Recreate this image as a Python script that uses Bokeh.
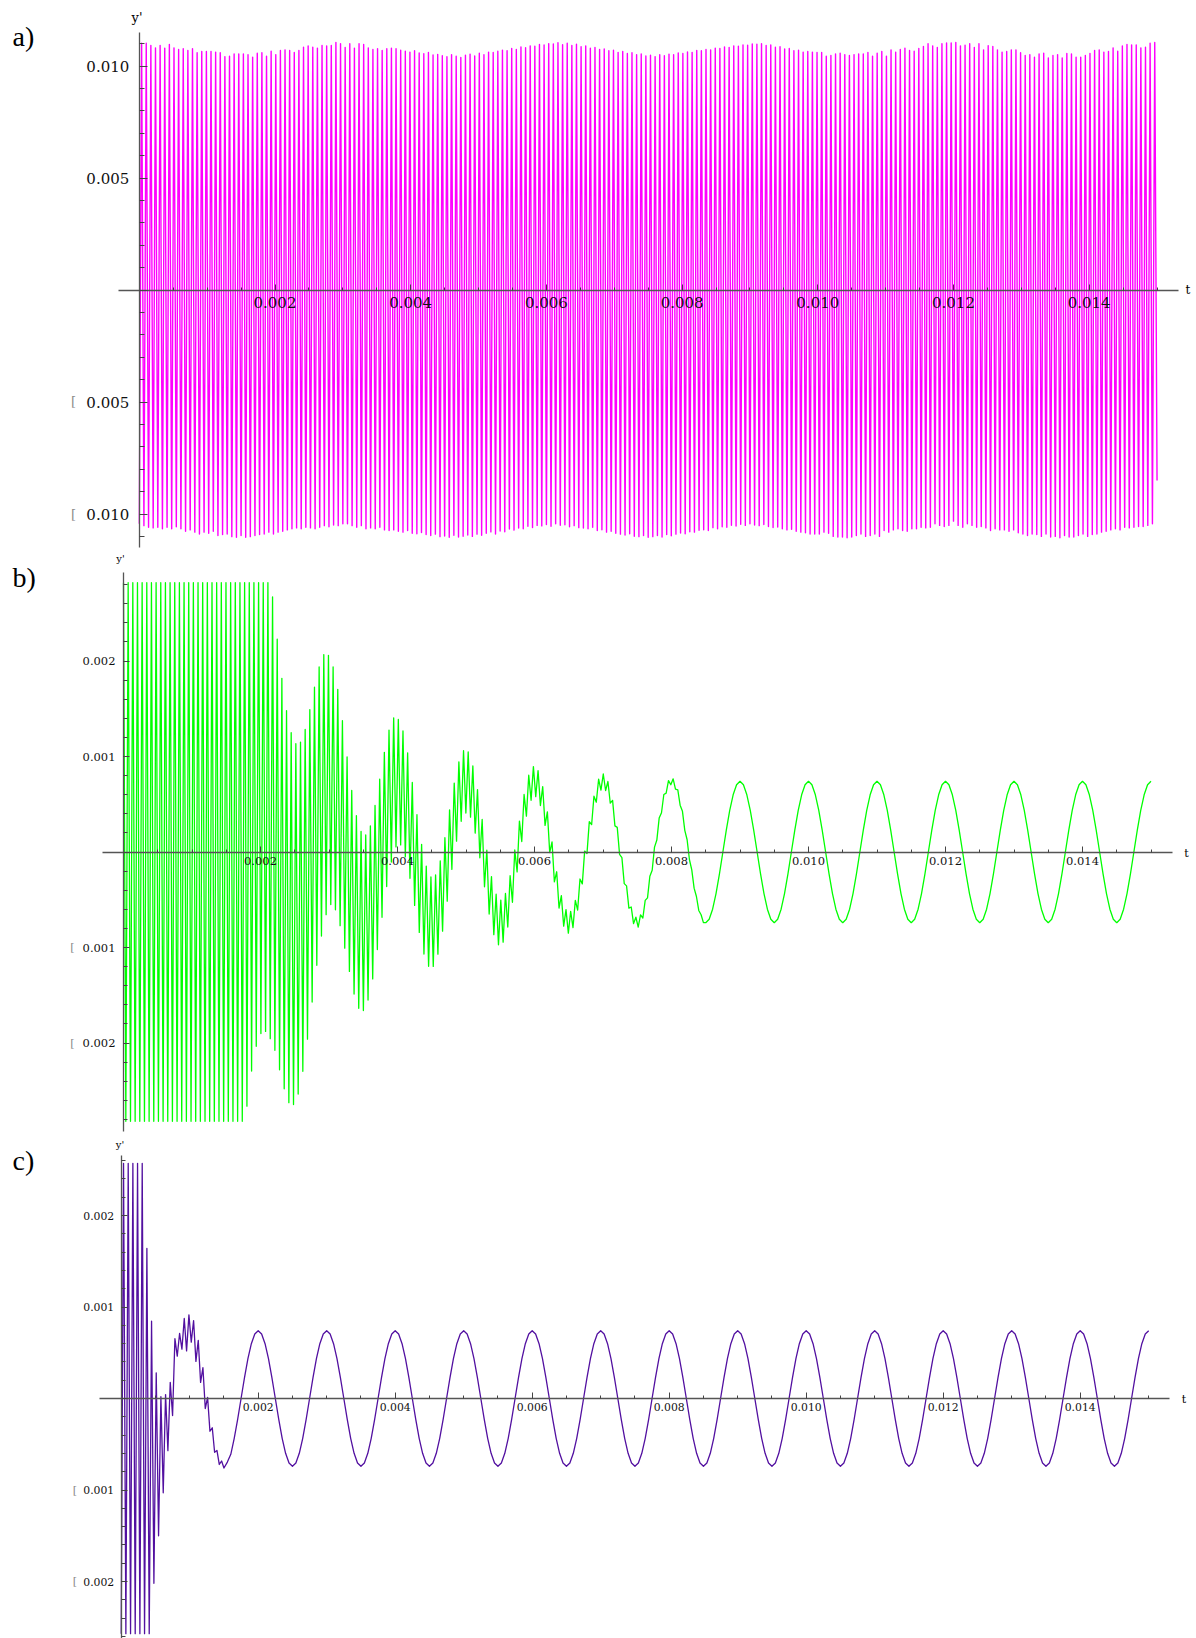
import numpy as np
from bokeh.plotting import figure
from bokeh.models import Range1d, SingleIntervalTicker, CustomJSTickFormatter, Label, LinearAxis
from bokeh.layouts import column
from bokeh.embed import file_html
from bokeh.resources import INLINE

# ---------------- data ----------------
T_END = 0.015

# panel a: successive troughs / peaks of the fast oscillation, units 1e-5
a_troughs = [
    -1044, -1052, -1059, -1062, -1059, -1066, -1059, -1066, -1057, -1066,
    -1077, -1071, -1081, -1089, -1081, -1086, -1077, -1096, -1092, -1089,
    -1101, -1104, -1096, -1104, -1101, -1096, -1092, -1089, -1081, -1089,
    -1081, -1077, -1071, -1066, -1062, -1066, -1059, -1062, -1066, -1059,
    -1052, -1057, -1049, -1052, -1044, -1044, -1052, -1059, -1052, -1066,
    -1062, -1066, -1059, -1071, -1074, -1071, -1077,
    -1081, -1074, -1086, -1088, -1083, -1092, -1096, -1090, -1101, -1098,
    -1104, -1095, -1103, -1099, -1094, -1100, -1090, -1095, -1086, -1080,
    -1089, -1076, -1079, -1067, -1072, -1063, -1066, -1055, -1060, -1051,
    -1053, -1047, -1055, -1044, -1050, -1048, -1057, -1052, -1061, -1063,
    -1066, -1059, -1074, -1070, -1081, -1077, -1086, -1090, -1094, -1088,
    -1099, -1101, -1096, -1104, -1101, -1096, -1103, -1092, -1097, -1090,
    -1085, -1088, -1079, -1081, -1073, -1070, -1074, -1061, -1066, -1057,
    -1059, -1050, -1054, -1046, -1051, -1044, -1049, -1052, -1047, -1056,
    -1060, -1058, -1066, -1071, -1068, -1077,
    -1081, -1084, -1089, -1089, -1089, -1081, -1086, -1100, -1103, -1103,
    -1106, -1103, -1096, -1089, -1100, -1096, -1089, -1100, -1074, -1081,
    -1071, -1066, -1074, -1077, -1066, -1066, -1059, -1062, -1059, -1044,
    -1051, -1056, -1051, -1032, -1051, -1059, -1044, -1051, -1059, -1056,
    -1062, -1074, -1066, -1071, -1071, -1077, -1071, -1084, -1089, -1096,
    -1089, -1092, -1100, -1089, -1103, -1100, -1106, -1096, -1103, -1103,
    -1096, -1089, -1100, -1092, -1089, -1081, -1077, -1071, -1066, -1071,
    -1059, -1062, -1059, -1056, -1056, -1051, -1044,
]
a_peaks = [
    1102, 1102, 1092, 1081, 1092, 1080, 1096, 1081, 1074, 1077, 1069,
    1077, 1059, 1065, 1065, 1065, 1062, 1059, 1042, 1044, 1054, 1054,
    1054, 1050, 1039, 1057, 1059, 1044, 1066, 1051, 1069, 1072, 1069,
    1060, 1069, 1084, 1089, 1084, 1080, 1092, 1089, 1092, 1105, 1099,
    1083, 1099, 1080, 1099, 1096, 1081, 1074, 1077, 1069, 1077, 1080,
    1077, 1070, 1066, 1062, 1068, 1058, 1055, 1060, 1049, 1052, 1046,
    1041, 1050, 1044, 1038, 1048, 1053, 1045, 1057, 1050, 1062, 1060,
    1066, 1071, 1068, 1078, 1074, 1085, 1082, 1090, 1088, 1096, 1094,
    1100, 1098, 1104, 1095, 1102, 1092, 1097, 1086, 1090, 1079, 1083,
    1074, 1076, 1068, 1070, 1061, 1065, 1056, 1059, 1050, 1054, 1045,
    1048, 1042, 1050, 1046, 1053, 1050, 1058, 1056, 1063, 1061, 1069,
    1068, 1074, 1072, 1080, 1078, 1085, 1083, 1090, 1088, 1094, 1093,
    1098, 1097, 1099, 1092, 1094, 1084, 1086, 1076, 1078, 1068, 1070,
    1062, 1065, 1062, 1060, 1060, 1044, 1047, 1054, 1057, 1051,
    1047, 1051, 1054, 1054, 1060, 1044, 1057, 1065, 1044, 1072,
    1062, 1074, 1080, 1069, 1066, 1078, 1087, 1099, 1090, 1083,
    1099, 1103, 1103, 1105, 1090, 1093, 1099, 1083, 1099, 1072,
    1091, 1087, 1072, 1062, 1065, 1072, 1072, 1059, 1047, 1051,
    1039, 1054, 1057, 1036, 1047, 1051, 1036, 1056, 1054, 1039,
    1039, 1047, 1056, 1069, 1072, 1062, 1065, 1081, 1066, 1089,
    1096, 1094, 1094, 1081, 1084, 1102, 1105,
]
a_last = -850

# panel b: fast part 0 .. 0.0085 (alternate upper / lower tips), units 1e-6
b_fast = [
    2820, -2820, 2820, -2820, 2820, -2820, 2820, -2820, 2820, -2820,
    2820, -2820, 2820, -2820, 2820, -2820, 2820, -2820, 2820, -2820,
    2820, -2820, 2820, -2820, 2820, -2820, 2820, -2820, 2820, -2820,
    2820, -2820, 2820, -2820, 2820, -2820, 2820, -2820, 2820, -2820,
    2820, -2820, 2820, -2820, 2820, -2820, 2820, -2820, 2820, -2820,
    2820, -2820,
    2820, -2662, 2820, -2293, 2820, -2035, 2820, -1901, 2820, -1879,
    2820, -1955, 2672, -2076, 2228, -2280, 1819, -2480, 1481, -2625,
    1249, -2645, 1134, -2534, 1151, -2296, 1283, -1960, 1491, -1571,
    1725, -1186, 1937, -880, 2067, -656, 2059, -550, 1938, -605,
    1703, -771, 1376, -1007, 995, -1250, 645, -1488, 381, -1637,
    215, -1660, 179, -1550, 272, -1329, 487, -1022, 763, -684,
    1044, -361, 1277, -105, 1405, 53, 1388, 74, 1268, -50,
    1038, -276, 728, -559, 390, -842, 80, -1069, -148, -1197,
    -262, -1198, -240, -1070, -92, -829, 150, -515, 441, -182,
    722, 114, 944, 322, 1061, 408, 1047, 365, 901, 198,
    653, -61, 341, -364, 20, -650, -257, -866, -442, -971,
    -503, -944, -434, -786, -248, -526, 21, -209, 324, 110,
    602, 376, 804, 542, 894, 580, 853, 487, 684, 278,
    420, -6, 105, -313, -207, -587, -457, -777, -604, -849,
    -621, -791, -506, -608, -283, -334, 10, -17, 318, 286,
    585, 521, 762, 648, 817, 644, 738, 511, 541, 273,
    258, -26, -59, -331, -355, -588, -576, -750, -683, -786,
    -659, -691, -506, -480, -254, -191, 51, 125, 355, 411,
    602, 616, 748, 704, 766, 658, 650, 490, 426, 227,
    128, -81, -188, -379, -466, -612, -657, -739, -740,
]
B_FAST_END = 0.0085
# panel b: smooth part 0.00855 .. 0.015, every 0.00005 s, units 1e-6
b_smooth = [
    -704, -599, -435, -229, 0, 229, 435, 599, 704,
    740, 704, 599, 435, 229, 0, -229, -435, -599, -704, -740, -704, -599, -435, -229, 0, 229, 435, 599, 704,
    740, 704, 599, 435, 229, 0, -229, -435, -599, -704, -740, -704, -599, -435, -229, 0, 229, 435, 599, 704,
    740, 704, 599, 435, 229, 0, -229, -435, -599, -704, -740, -704, -599, -435, -229, 0, 229, 435, 599, 704,
    740, 704, 599, 435, 229, 0, -229, -435, -599, -704, -740, -704, -599, -435, -229, 0, 229, 435, 599, 704,
    740, 704, 599, 435, 229, 0, -229, -435, -599, -704, -740, -704, -599, -435, -229, 0, 229, 435, 599, 704,
    740, 704, 599, 435, 229, 0, -229, -435, -599, -704, -740, -704, -599, -435, -229, 0, 229, 435, 599, 704,
    740,
]
B_SMOOTH_START = 0.00855

# panel c: fast part 0 .. 0.0015, units 1e-6
c_fast = [
    -2570, 2570, -2570, 2570, -2570, 2570, -2570, 2570, -2570, 2570,
    -2570, 1640, -2570, 845, -2020, 280, -1500, 20, -1030, 43,
    -570, 176, -186, 654, 463, 711, 539, 875, 520, 914,
    616, 852, 406, 635, 176, 337, -110, 12, -358, -320,
    -588, -568, -721, -683, -760,
]
C_FAST_END = 0.0015
# panel c: smooth part 0.00155 .. 0.015, every 0.00005 s, units 1e-6
c_smooth = [
    -695, -610, -435, -229, 0, 229, 435, 599, 704,
    740, 704, 599, 435, 229, 0, -229, -435, -599, -704, -740, -704, -599, -435, -229, 0, 229, 435, 599, 704,
    740, 704, 599, 435, 229, 0, -229, -435, -599, -704, -740, -704, -599, -435, -229, 0, 229, 435, 599, 704,
    740, 704, 599, 435, 229, 0, -229, -435, -599, -704, -740, -704, -599, -435, -229, 0, 229, 435, 599, 704,
    740, 704, 599, 435, 229, 0, -229, -435, -599, -704, -740, -704, -599, -435, -229, 0, 229, 435, 599, 704,
    740, 704, 599, 435, 229, 0, -229, -435, -599, -704, -740, -704, -599, -435, -229, 0, 229, 435, 599, 704,
    740, 704, 599, 435, 229, 0, -229, -435, -599, -704, -740, -704, -599, -435, -229, 0, 229, 435, 599, 704,
    740, 704, 599, 435, 229, 0, -229, -435, -599, -704, -740, -704, -599, -435, -229, 0, 229, 435, 599, 704,
    740, 704, 599, 435, 229, 0, -229, -435, -599, -704, -740, -704, -599, -435, -229, 0, 229, 435, 599, 704,
    740, 704, 599, 435, 229, 0, -229, -435, -599, -704, -740, -704, -599, -435, -229, 0, 229, 435, 599, 704,
    740, 704, 599, 435, 229, 0, -229, -435, -599, -704, -740, -704, -599, -435, -229, 0, 229, 435, 599, 704,
    740, 704, 599, 435, 229, 0, -229, -435, -599, -704, -740, -704, -599, -435, -229, 0, 229, 435, 599, 704,
    740, 704, 599, 435, 229, 0, -229, -435, -599, -704, -740, -704, -599, -435, -229, 0, 229, 435, 599, 704,
    740, 704, 599, 435, 229, 0, -229, -435, -599, -704, -740, -704, -599, -435, -229, 0, 229, 435, 599, 704,
    740,
]
C_SMOOTH_START = 0.00155

x_tick_step = 0.002
panel_names = ["a)", "b)", "c)"]
colors = ["#FF00FF", "#00FF00", "#5210A0"]

# ---------------- series assembly ----------------
seq_a = []
for tr, pk in zip(a_troughs, a_peaks):
    seq_a += [tr, pk]
seq_a.append(a_last)
ya = np.array(seq_a, dtype=float) * 1e-5
ta = np.linspace(0.0, T_END, len(ya))

tb = np.concatenate([np.linspace(0.0, B_FAST_END, len(b_fast)),
                     np.linspace(B_SMOOTH_START, T_END, len(b_smooth))])
yb = np.array(b_fast + b_smooth, dtype=float) * 1e-6

tc = np.concatenate([np.linspace(0.0, C_FAST_END, len(c_fast)),
                     np.linspace(C_SMOOTH_START, T_END, len(c_smooth))])
yc = np.array(c_fast + c_smooth, dtype=float) * 1e-6

# ---------------- layout helpers ----------------
PAGE_L, PAGE_R = 0, 1196
FW = PAGE_R - PAGE_L
SERIF = "DejaVu Serif"

fmt_code = "if (Math.abs(tick) < 1e-12) { return ''; } return Math.abs(tick).toFixed(3);"


def make_panel(P):
    x0, xs, y0, ys, top, h = P["x0"], P["xs"], P["y0"], P["ys"], P["top"], P["h"]
    xr = Range1d((PAGE_L - x0) / xs, (PAGE_R - x0) / xs)
    yr = Range1d((y0 - (top + h)) / ys, (y0 - top) / ys)
    p = figure(width=FW, height=h, x_range=xr, y_range=yr,
               output_backend="svg", toolbar_location=None,
               x_axis_location=None, y_axis_location=None, min_border=0)
    p.outline_line_color = None
    p.background_fill_color = "white"
    p.border_fill_color = "white"
    p.xgrid.visible = False
    p.ygrid.visible = False

    xax = LinearAxis(ticker=SingleIntervalTicker(interval=x_tick_step, num_minor_ticks=4),
                     formatter=CustomJSTickFormatter(code=fmt_code),
                     fixed_location=0, bounds=(-0.00031, 0.01531))
    yax = LinearAxis(ticker=SingleIntervalTicker(interval=P["ytick"], num_minor_ticks=5),
                     formatter=CustomJSTickFormatter(code=fmt_code),
                     fixed_location=0, bounds=P["ybounds"])
    for ax, st in ((xax, P["xstand"]), (yax, P["ystand"])):
        ax.axis_line_color = "#555555"
        ax.axis_line_width = 1.3
        ax.major_tick_line_color = "#444444"
        ax.minor_tick_line_color = "#444444"
        ax.major_tick_out = 0
        ax.minor_tick_out = 0
        ax.major_label_text_font = SERIF
        ax.major_label_text_font_size = P["fs"]
        ax.major_label_text_color = "#111111"
        ax.major_label_standoff = st
    xax.major_tick_in = 6
    xax.minor_tick_in = 3
    yax.major_tick_in = P["ymaj"]
    yax.minor_tick_in = P["ymin"]
    p.add_layout(xax, "below")
    p.add_layout(yax, "left")
    return p


def add_text(p, P, px, py, text, size, color="#000000", font=SERIF,
             align="center", baseline="middle"):
    t = (px - P["x0"]) / P["xs"]
    v = (P["y0"] - py) / P["ys"]
    p.add_layout(Label(x=t, y=v, text=text, text_font=font, text_font_size=size,
                       text_color=color, text_align=align, text_baseline=baseline))


PA = dict(x0=138.8, xs=67850.0, y0=289.5, ys=22400.0, top=0, h=553,
          ytick=0.005, ybounds=(-0.0115, 0.0115), fs="15px", xstand=7, ystand=10,
          ymaj=8, ymin=5)
PB = dict(x0=123.0, xs=68500.0, y0=851.5, ys=95500.0, top=553, h=585,
          ytick=0.001, ybounds=(-0.00293, 0.00293), fs="11.5px", xstand=5, ystand=8,
          ymaj=6, ymin=4)
PC = dict(x0=120.7, xs=68500.0, y0=1398.0, ys=91500.0, top=1138, h=500,
          ytick=0.001, ybounds=(-0.0027, 0.00266), fs="10.8px", xstand=4, ystand=7,
          ymaj=6, ymin=4)

pa = make_panel(PA)
pa.line(ta, ya, line_color=colors[0], line_width=1.4, line_join="round")
add_text(pa, PA, 12, 36, panel_names[0], "28px", font="Liberation Serif", align="left", baseline="alphabetic")
add_text(pa, PA, 136.5, 17, "y'", "13px")
add_text(pa, PA, 1185, 289.5, "t", "12px", align="left")
add_text(pa, PA, 73, 401, "[", "13px", color="#8a8a8a")
add_text(pa, PA, 73, 514, "[", "13px", color="#8a8a8a")

pb = make_panel(PB)
pb.line(tb, yb, line_color=colors[1], line_width=1.3, line_join="round")
add_text(pb, PB, 12, 577, panel_names[1], "28px", font="Liberation Serif", align="left", baseline="alphabetic")
add_text(pb, PB, 120, 557.5, "y'", "10px")
add_text(pb, PB, 1186, 853, "t", "11px")
add_text(pb, PB, 72, 947, "[", "11px", color="#8a8a8a")
add_text(pb, PB, 72, 1043, "[", "11px", color="#8a8a8a")

pc = make_panel(PC)
pc.line(tc, yc, line_color=colors[2], line_width=1.3, line_join="round")
add_text(pc, PC, 12, 1160, panel_names[2], "28px", font="Liberation Serif", align="left", baseline="alphabetic")
add_text(pc, PC, 119.5, 1144, "y'", "10px")
add_text(pc, PC, 1183.5, 1399, "t", "11px")
add_text(pc, PC, 74.5, 1490, "[", "11px", color="#8a8a8a")
add_text(pc, PC, 74.5, 1581, "[", "11px", color="#8a8a8a")

layout = column(pa, pb, pc, spacing=0)
open("out.html", "w").write(file_html(layout, INLINE))
